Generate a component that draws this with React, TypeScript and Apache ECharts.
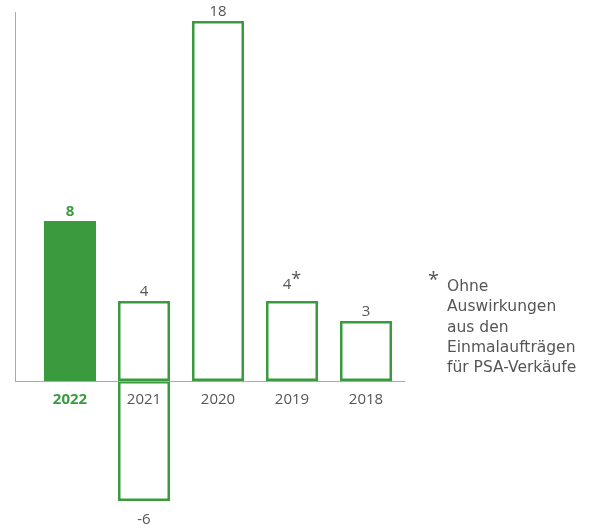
import React, { useEffect, useRef } from "react";
import * as echarts from "echarts";

const categories = ["2022", "2021", "2020", "2019", "2018"];
const positiveValues = [8, 4, 18, 4, 3];
const negativeValues: (number | string)[] = ["-", -6, "-", "-", "-"];
const asteriskIndex = 3;
const noteLines = ["Ohne", "Auswirkungen", "aus den", "Einmalaufträgen", "für PSA-Verkäufe"];

const GREEN = "#3a9b3e";
const GRAY = "#555555";
const FONT = "'Open Sans', Roboto, sans-serif";
const NOTE_FONT = "'DejaVu Sans', 'Open Sans', sans-serif";

export default function App() {
  const ref = useRef<HTMLDivElement>(null);
  useEffect(() => {
    if (!ref.current) return;
    const chart = echarts.init(ref.current, undefined, { renderer: "svg" });
    const posData = positiveValues.map((v, i) => ({
      value: v,
      itemStyle:
        i === 0
          ? { color: GREEN, borderColor: GREEN, borderWidth: 0 }
          : { color: "#ffffff", borderColor: GREEN, borderWidth: 2.5 },
      label:
        i === 0
          ? { color: GREEN, fontWeight: "bold" as const }
          : {},
    }));
    chart.setOption({
      animation: false,
      textStyle: { fontFamily: FONT },
      grid: { left: 33, top: 21, width: 370, height: 360, containLabel: false },
      xAxis: {
        type: "category",
        data: categories,
        z: 10,
        axisLine: { show: false },
        axisTick: { show: false },
        axisLabel: {
          interval: 0,
          margin: 9,
          fontSize: 15,
          color: GRAY,
          fontFamily: FONT,
          formatter: (v: string, i: number) => (i === 0 ? `{b|${v}}` : v),
          rich: { b: { fontWeight: "bold", color: GREEN, fontSize: 15, fontFamily: FONT } },
        },
      },
      yAxis: {
        type: "value",
        min: 0,
        max: 18,
        axisLine: { show: false },
        axisTick: { show: false },
        axisLabel: { show: false },
        splitLine: { show: false },
      },
      series: [
        {
          type: "bar",
          stack: "a",
          barWidth: 52,
          clip: false,
          z: 1,
          data: posData,
          label: {
            show: true,
            position: "top",
            distance: 4,
            fontSize: 15,
            color: GRAY,
            fontFamily: FONT,
            formatter: (p: any) =>
              p.dataIndex === asteriskIndex ? `${p.value}{s|*}` : `${p.value}`,
            rich: { s: { fontSize: 18, color: GRAY, verticalAlign: "top", padding: [0, 0, 10, 0] } },
          },
        },
        {
          type: "bar",
          stack: "a",
          barWidth: 52,
          clip: false,
          z: 1,
          data: negativeValues,
          itemStyle: { color: "#ffffff", borderColor: GREEN, borderWidth: 2.5 },
          label: {
            show: true,
            position: "bottom",
            distance: 9,
            fontSize: 15,
            color: GRAY,
            fontFamily: FONT,
          },
        },
      ],
      graphic: [
        { type: "line", z: 100, shape: { x1: 15.5, y1: 12, x2: 15.5, y2: 381.5 }, style: { stroke: "#aaaaaa", lineWidth: 1 } },
        { type: "line", z: 100, shape: { x1: 15, y1: 381.5, x2: 405, y2: 381.5 }, style: { stroke: "#aaaaaa", lineWidth: 1 } },
        { type: "text", left: 428, top: 268, style: { text: "*", fontSize: 20, fill: GRAY, fontFamily: FONT } },
        {
          type: "text",
          left: 447,
          top: 276,
          style: {
            text: noteLines.join("\n"),
            fontSize: 15.5,
            lineHeight: 20.3,
            fill: GRAY,
            fontFamily: NOTE_FONT,
          },
        },
      ],
    });
    return () => chart.dispose();
  }, []);
  return <div ref={ref} style={{ position: "fixed", left: 0, top: 0, width: 606, height: 529 }} />;
}
